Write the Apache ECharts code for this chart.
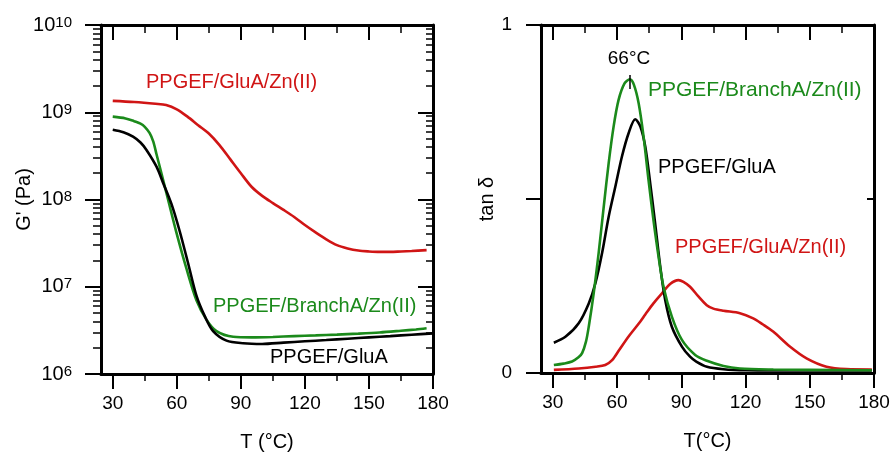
<!DOCTYPE html>
<html>
<head>
<meta charset="utf-8">
<script src="https://cdn.jsdelivr.net/npm/echarts@6/dist/echarts.min.js"></script>
<style>
  html, body { margin: 0; padding: 0; background: #fff; }
  #chart { width: 891px; height: 453px; }
</style>
</head>
<body>
<div id="chart"></div>
<script>
// temperature axis
const tempMin = 24.5;
const tempMax = 180;
const tempMajor = [30, 60, 90, 120, 150, 180];
const tempMinor = [45, 75, 105, 135, 165];

// G' axis (Pa), decades
const modulusDecades = [1e6, 1e7, 1e8, 1e9, 1e10];
const tanTicks = [0, 0.5, 1];

// G' (Pa) vs T (°C)
const storageGluZn = [
  [30, 1.35e9], [40, 1.31e9], [50, 1.25e9], [55, 1.21e9], [60, 1.08e9], [65, 8.9e8],
  [70, 7.1e8], [75, 5.7e8], [80, 4.2e8], [85, 2.9e8], [90, 2.0e8], [95, 1.4e8],
  [100, 1.1e8], [105, 9.1e7], [110, 7.6e7], [115, 6.3e7], [120, 5.1e7], [125, 4.2e7],
  [130, 3.5e7], [135, 3.0e7], [140, 2.75e7], [145, 2.6e7], [150, 2.54e7], [155, 2.51e7],
  [160, 2.51e7], [165, 2.54e7], [170, 2.57e7], [177, 2.63e7]
];
const storageBranchZn = [
  [30, 8.9e8], [36, 8.5e8], [40, 7.9e8], [43, 7.4e8], [45, 6.8e8], [47.3, 5.75e8],
  [49, 4.6e8], [50.5, 3.3e8], [52.8, 2.0e8], [55.9, 1.0e8], [59.8, 4.2e7], [64.5, 1.62e7],
  [69.2, 7.0e6], [73.9, 4.2e6], [78.6, 3.1e6], [86.4, 2.67e6], [95, 2.63e6], [105, 2.66e6],
  [115, 2.72e6], [125, 2.77e6], [135, 2.83e6], [145, 2.9e6], [155, 2.99e6], [165, 3.13e6],
  [172, 3.24e6], [177, 3.34e6]
];
const storageGlu = [
  [30, 6.3e8], [35, 5.9e8], [39.5, 5.25e8], [43, 4.5e8], [45.8, 3.7e8], [50.5, 2.38e8],
  [53.6, 1.55e8], [57.5, 8.9e7], [61.4, 4.3e7], [65.3, 1.86e7], [69.2, 7.9e6], [73.1, 4.6e6],
  [77, 3.1e6], [83.3, 2.41e6], [91.1, 2.25e6], [100, 2.21e6], [110, 2.29e6], [120, 2.37e6],
  [130, 2.45e6], [140, 2.54e6], [150, 2.63e6], [160, 2.72e6], [170, 2.82e6], [180, 2.92e6]
];

// tan delta vs T (°C)
const tanBranchZn = [
  [30.5, 0.023], [35, 0.027], [39, 0.033], [42, 0.045], [43.7, 0.057], [45.5, 0.09],
  [46.8, 0.133], [49.1, 0.229], [51.4, 0.344], [53.8, 0.478], [56.1, 0.603], [58.4, 0.708],
  [60.7, 0.784], [63.5, 0.832], [66, 0.844], [67.9, 0.828], [70.1, 0.775], [72.4, 0.679],
  [74.7, 0.555], [77, 0.44], [79.4, 0.334], [81.7, 0.248], [85.6, 0.162], [90.3, 0.095],
  [96.5, 0.052], [102, 0.035], [109.7, 0.02], [117.4, 0.013], [133, 0.01], [150, 0.009], [179, 0.008]
];
const tanGlu = [
  [30.5, 0.087], [35.9, 0.104], [42.1, 0.143], [46.8, 0.2], [49.9, 0.258], [53, 0.344],
  [56.1, 0.449], [59.2, 0.535], [62.3, 0.622], [65.4, 0.689], [68.5, 0.729], [70.9, 0.708],
  [73.2, 0.65], [75.5, 0.545], [77.8, 0.43], [80.2, 0.305], [82.5, 0.21], [85.6, 0.133],
  [90.3, 0.076], [94.1, 0.047], [97, 0.033], [102, 0.018], [109.7, 0.011], [120, 0.008],
  [150, 0.007], [179, 0.007]
];
const tanGluZn = [
  [30.5, 0.009], [42.1, 0.013], [50, 0.018], [54.5, 0.023], [57.7, 0.037], [61, 0.066],
  [65.4, 0.105], [70.9, 0.148], [73.2, 0.168], [77, 0.2], [81, 0.229], [84.8, 0.256],
  [88.7, 0.267], [91, 0.262], [94.1, 0.248], [98, 0.22], [101.9, 0.195], [105, 0.185],
  [109.7, 0.179], [117.4, 0.172], [123.6, 0.157], [128, 0.14], [132.9, 0.119], [140.7, 0.076],
  [148.5, 0.042], [157.8, 0.018], [167.1, 0.011], [179, 0.01]
];

const RED = '#d01515';
const GREEN = '#1b8a1b';
const BLACK = '#000';
const FONT = 'Arial, "Liberation Sans", sans-serif';

// minor log ticks 2..9 per decade
const modulusMinor = [];
modulusDecades.slice(0, -1).forEach(d => {
  for (let k = 2; k <= 9; k++) modulusMinor.push(k * d);
});

const frameLine = { show: true, onZero: false, lineStyle: { color: BLACK, width: 3 } };
const noLine = { show: false, onZero: false };
const tickStyle = { color: BLACK, width: 2 };
const minorTickStyle = { color: BLACK, width: 1.5 };
const nameStyle = { color: BLACK, fontSize: 20, fontFamily: FONT };

function tempAxes(gridIndex, name) {
  const base = { type: 'value', gridIndex, min: tempMin, max: tempMax, splitLine: { show: false } };
  return [
    {
      ...base, position: 'bottom', axisLine: frameLine,
      axisTick: { customValues: tempMajor, length: 15, lineStyle: tickStyle },
      axisLabel: { customValues: tempMajor, margin: 20, color: BLACK, fontSize: 19, fontFamily: FONT },
      name, nameLocation: 'middle', nameGap: 58, nameTextStyle: nameStyle
    },
    {
      ...base, position: 'bottom', axisLine: noLine,
      axisTick: { customValues: tempMinor, length: 7, lineStyle: minorTickStyle },
      axisLabel: { show: false }
    },
    {
      ...base, position: 'top', axisLine: frameLine,
      axisTick: { inside: true, customValues: tempMajor, length: 15, lineStyle: tickStyle },
      axisLabel: { show: false }
    },
    {
      ...base, position: 'top', axisLine: noLine,
      axisTick: { inside: true, customValues: tempMinor, length: 8, lineStyle: minorTickStyle },
      axisLabel: { show: false }
    }
  ];
}

const logBase = { type: 'log', logBase: 10, gridIndex: 0, min: 1e6, max: 1e10, splitLine: { show: false } };

function line(data, color, xAxisIndex, yAxisIndex, extra) {
  return Object.assign({
    type: 'line', data, xAxisIndex, yAxisIndex,
    symbol: 'none', showSymbol: false, smooth: 0.3, silent: true,
    lineStyle: { color, width: 2.6 }, itemStyle: { color }
  }, extra || {});
}

const peak = tanBranchZn.reduce((a, b) => (b[1] > a[1] ? b : a));

function note(x, y, text, color, size) {
  return {
    type: 'text', x, y, silent: true,
    style: { text, fill: color, fontSize: size || 20, fontFamily: FONT, align: 'left', verticalAlign: 'middle' }
  };
}

const chart = echarts.init(document.getElementById('chart'));

chart.setOption({
  animation: false,
  backgroundColor: '#fff',
  grid: [
    { left: 101, top: 25, width: 332, height: 349, outerBoundsMode: 'none' },
    { left: 541, top: 25, width: 333, height: 348, outerBoundsMode: 'none' }
  ],
  xAxis: [...tempAxes(0, 'T (°C)'), ...tempAxes(1, 'T(°C)')],
  yAxis: [
    {
      ...logBase, position: 'left', axisLine: frameLine,
      axisTick: { customValues: modulusDecades, length: 16, lineStyle: tickStyle },
      axisLabel: {
        customValues: modulusDecades, margin: 29, color: BLACK, fontFamily: FONT,
        formatter: v => '{b|10}{s|' + Math.round(Math.log10(v)) + '}',
        rich: {
          b: { fontSize: 20, lineHeight: 20, verticalAlign: 'bottom', fontFamily: FONT, color: BLACK },
          s: { fontSize: 15, lineHeight: 15, verticalAlign: 'top', padding: [0, 0, 10, 0], fontFamily: FONT, color: BLACK }
        }
      },
      name: "G' (Pa)", nameLocation: 'middle', nameGap: 67, nameMoveOverlap: false, nameTextStyle: nameStyle
    },
    {
      ...logBase, position: 'left', axisLine: noLine,
      axisTick: { customValues: modulusMinor, length: 8, lineStyle: minorTickStyle },
      axisLabel: { show: false }
    },
    {
      ...logBase, position: 'right', axisLine: frameLine,
      axisTick: { inside: true, customValues: modulusDecades, length: 15, lineStyle: tickStyle },
      axisLabel: { show: false }
    },
    {
      ...logBase, position: 'right', axisLine: noLine,
      axisTick: { inside: true, customValues: modulusMinor, length: 7, lineStyle: minorTickStyle },
      axisLabel: { show: false }
    },
    {
      type: 'value', gridIndex: 1, min: 0, max: 1, position: 'left', splitLine: { show: false },
      axisLine: frameLine,
      axisTick: { customValues: tanTicks, length: 15, lineStyle: tickStyle },
      axisLabel: {
        customValues: [0, 1], margin: 29, color: BLACK, fontSize: 19, fontFamily: FONT
      },
      name: 'tan δ', nameLocation: 'middle', nameGap: 36, nameTextStyle: nameStyle
    },
    {
      type: 'value', gridIndex: 1, min: 0, max: 1, position: 'right', splitLine: { show: false },
      axisLine: frameLine,
      axisTick: { inside: true, customValues: [0.5], length: 7, lineStyle: tickStyle },
      axisLabel: { show: false }
    }
  ],
  series: [
    line(storageGluZn, RED, 0, 0),
    line(storageBranchZn, GREEN, 0, 0),
    line(storageGlu, BLACK, 0, 0),
    line(tanGluZn, RED, 4, 4),
    line(tanGlu, BLACK, 4, 4),
    line(tanBranchZn, GREEN, 4, 4, {
      markLine: {
        silent: true, symbol: 'none', animation: false,
        lineStyle: { color: BLACK, width: 1.5, type: 'solid' },
        label: { show: false },
        data: [[{ coord: [peak[0], peak[1] + 0.012] }, { coord: [peak[0], peak[1] - 0.028] }]]
      }
    })
  ],
  graphic: [
    note(146, 82, 'PPGEF/GluA/Zn(II)', RED),
    note(213, 306, 'PPGEF/BranchA/Zn(II)', GREEN),
    note(270, 357, 'PPGEF/GluA', BLACK),
    {
      type: 'text', x: 629, y: 59, silent: true,
      style: { text: '66°C', fill: BLACK, fontSize: 19, fontFamily: FONT, align: 'center', verticalAlign: 'middle' }
    },
    note(648, 90, 'PPGEF/BranchA/Zn(II)', GREEN, 21),
    note(658, 167, 'PPGEF/GluA', BLACK),
    note(675, 247, 'PPGEF/GluA/Zn(II)', RED)
  ]
});
</script>
</body>
</html>
